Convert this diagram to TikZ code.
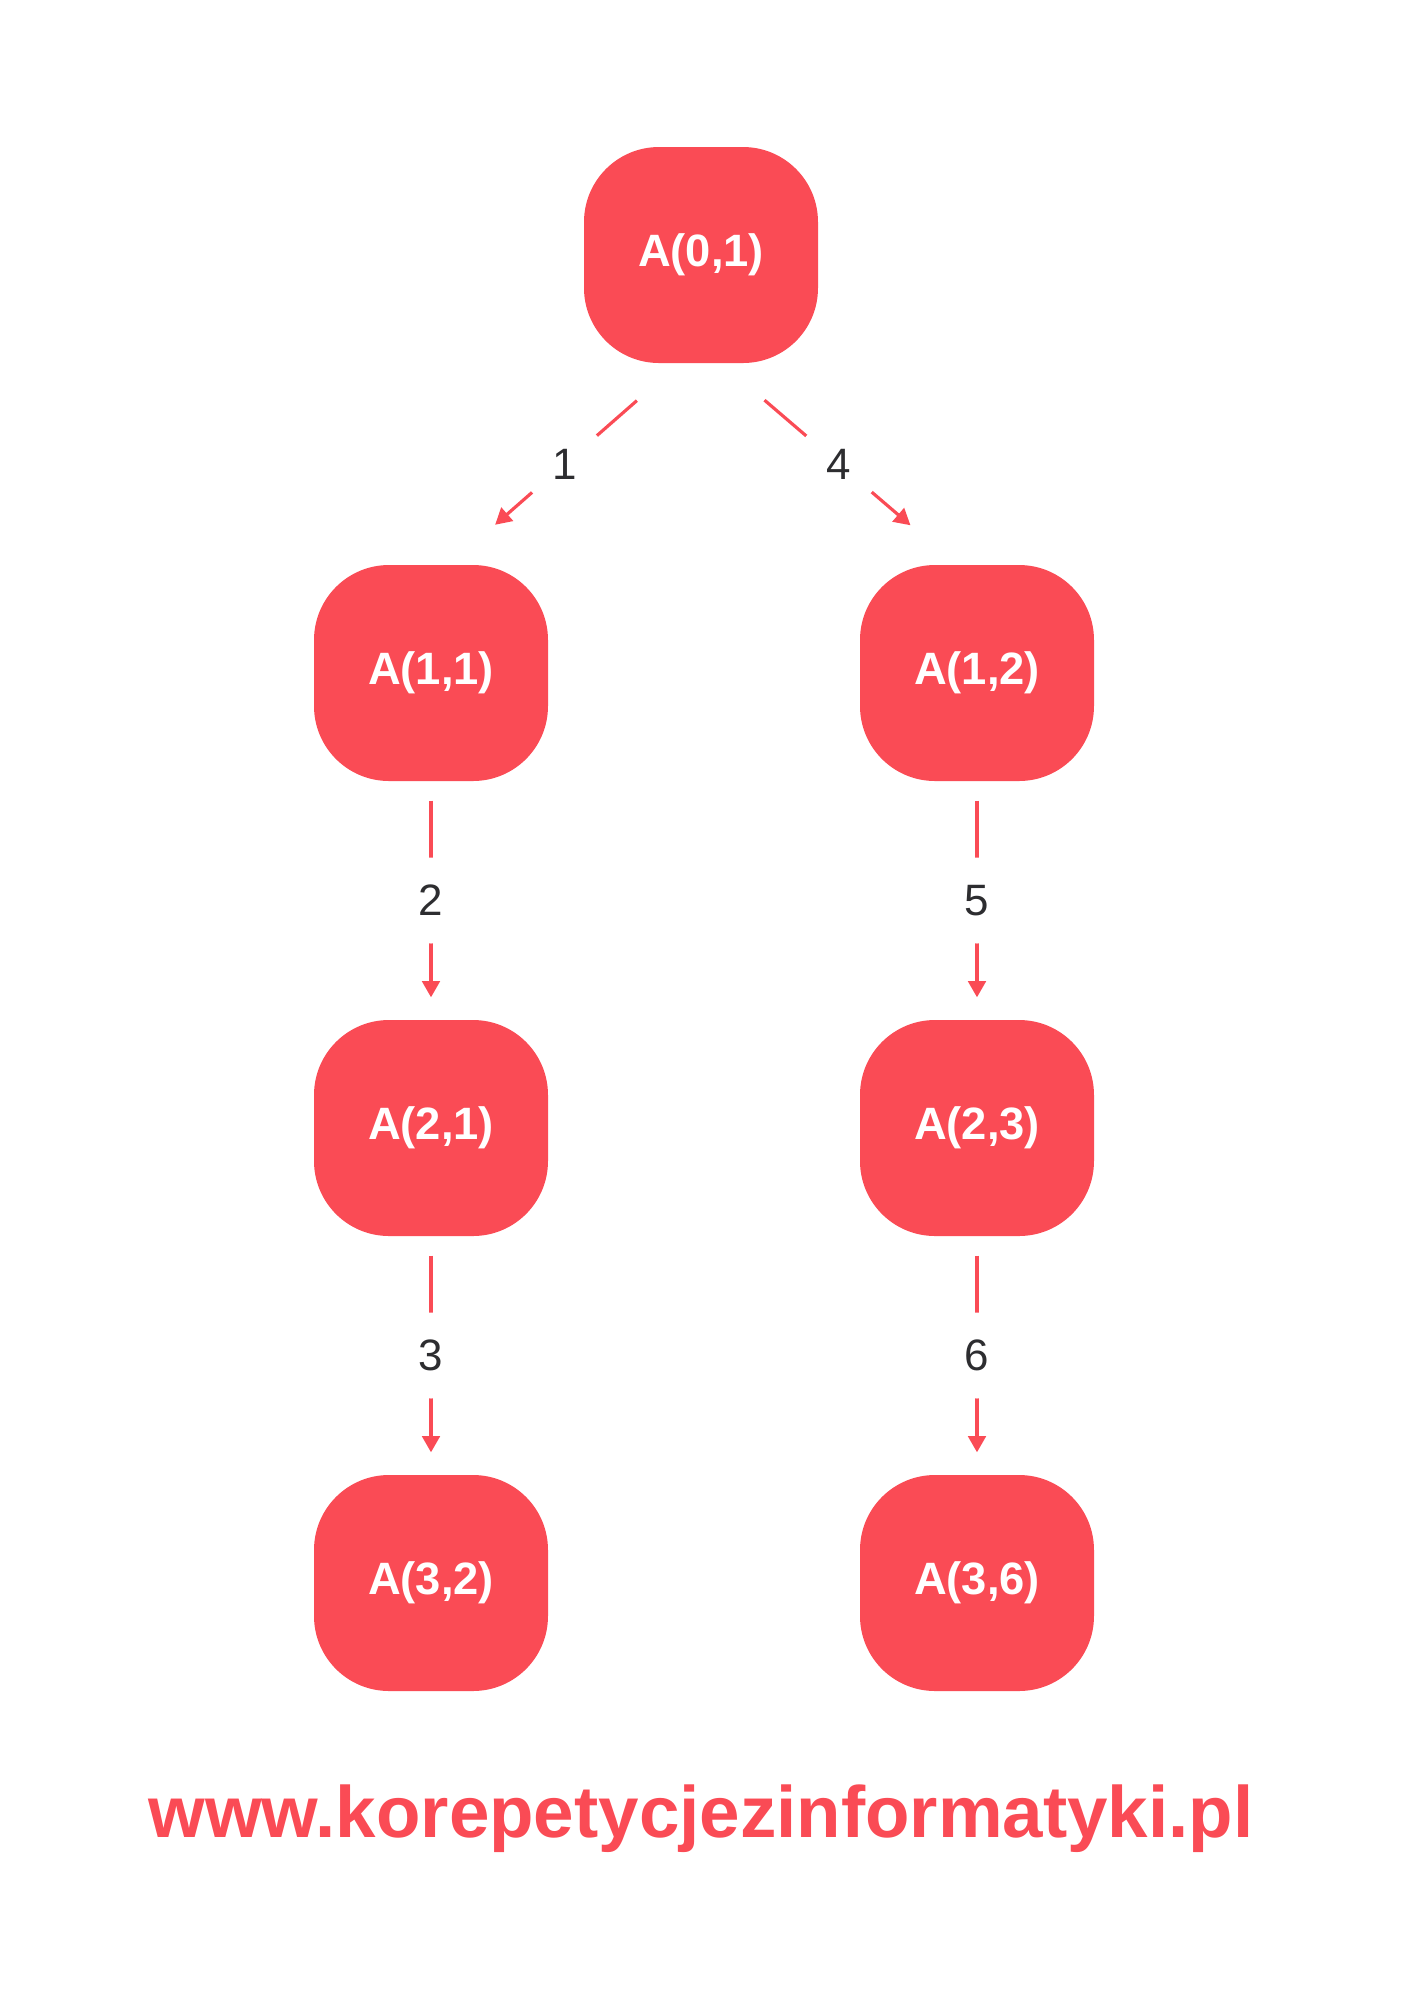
\documentclass[tikz,border=0pt]{standalone}
\usepackage{fontspec}
\setmainfont{Liberation Sans}
\usepackage{xcolor}
\usepackage{tikz}
\usetikzlibrary{arrows.meta}

\definecolor{koral}{RGB}{250,75,85}
\definecolor{ciemny}{RGB}{45,45,48}

\tikzset{
	wywolanie/.style={fill=koral, text=white, rounded corners=0.75cm,
		minimum width=2.34cm, minimum height=2.16cm,
		font=\fontsize{12.9}{15}\selectfont\bfseries},
	krawedz/.style={draw=koral, line width=0.9pt,
		-{Triangle[length=4.6pt,width=5pt]}},
	numer/.style={circle, fill=white, minimum size=0.86cm, inner sep=0pt,
		text=ciemny, font=\fontsize{12.5}{14}\selectfont}
}

\begin{document}
\begin{tikzpicture}
		\useasboundingbox (0,0) rectangle (14.01,-19.99);
	
		% wywolania
		\node[wywolanie] (a01) at (7.01,-2.55) {A(0,1)};
		\node[wywolanie] (a11) at (4.31,-6.73) {A(1,1)};
		\node[wywolanie] (a12) at (9.77,-6.73) {A(1,2)};
		\node[wywolanie] (a21) at (4.31,-11.28) {A(2,1)};
		\node[wywolanie] (a23) at (9.77,-11.28) {A(2,3)};
		\node[wywolanie] (a32) at (4.31,-15.83) {A(3,2)};
		\node[wywolanie] (a36) at (9.77,-15.83) {A(3,6)};
	
		\draw[krawedz, shorten <=0.56cm, shorten >=0.6cm]
			([xshift=-0.22cm]a01.south) -- node[numer] {1} ([xshift=0.19cm]a11.north);
		\draw[krawedz, shorten <=0.56cm, shorten >=0.6cm]
			([xshift=0.21cm]a01.south) -- node[numer] {4} ([xshift=-0.21cm]a12.north);
	
		\foreach \Od/\Do/\Nr in {a11/a21/2, a21/a32/3, a12/a23/5, a23/a36/6}{
			\draw[krawedz, shorten <=0.19cm, shorten >=0.22cm]
				(\Od.south) -- node[numer] {\Nr} (\Do.north);
		};
	
		\node[anchor=base, text=koral, font=\fontsize{20.7}{24}\selectfont\bfseries] (strona)
			at (7.01,-18.37) {www.korepetycjezinformatyki.pl};
	
		\end{tikzpicture}
\end{document}
